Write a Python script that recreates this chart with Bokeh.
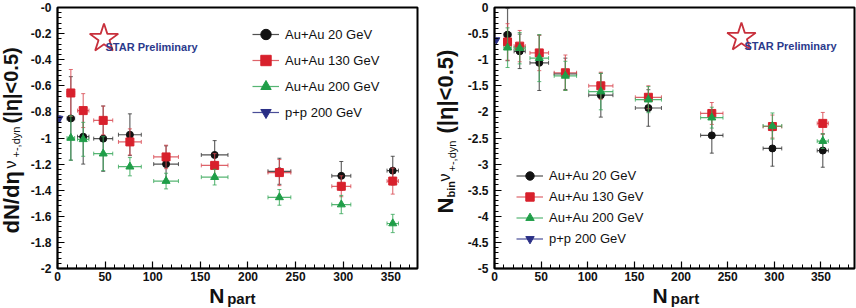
import math
from bokeh.plotting import figure
from bokeh.layouts import row, column
from bokeh.models import (ColumnDataSource, Legend, LegendItem, Label, FixedTicker,
                          Range1d, CustomJSTickFormatter)
from bokeh.embed import file_html
from bokeh.resources import INLINE

# ---------------- data ----------------
npart = [14, 27, 48, 76, 114, 165, 233, 298, 352]
npart_err = [4, 6, 10, 12, 13, 14, 12, 10, 6]
pp_npart = [2]
pp_npart_err = [0]

series_names = ["Au+Au 20 GeV", "Au+Au 130 GeV", "Au+Au 200 GeV", "p+p 200 GeV"]

# left panel: dN/deta * nu_dyn
left_au20 = [-0.85, -0.99, -1.005, -0.975, -1.20, -1.13, -1.255, -1.29, -1.25]
left_au20_err = [0.32, 0.21, 0.25, 0.16, 0.14, 0.11, 0.10, 0.11, 0.11]
left_au130 = [-0.655, -0.79, -0.865, -1.03, -1.145, -1.21, -1.265, -1.37, -1.33]
left_au130_err = [0.18, 0.13, 0.11, 0.10, 0.09, 0.09, 0.10, 0.08, 0.10]
left_au200 = [-1.00, -1.01, -1.12, -1.22, -1.33, -1.30, -1.455, -1.51, -1.655]
left_au200_err = [0.17, 0.13, 0.13, 0.07, 0.06, 0.06, 0.06, 0.07, 0.07]
left_pp = [-0.85]
left_pp_err = [0.02]

# right panel: N_bin * nu_dyn
right_au20 = [-0.52, -0.84, -1.06, -1.27, -1.68, -1.925, -2.45, -2.70, -2.74]
right_au20_err = [0.50, 0.33, 0.53, 0.30, 0.42, 0.35, 0.34, 0.34, 0.32]
right_au130 = [-0.66, -0.74, -0.87, -1.25, -1.50, -1.72, -2.03, -2.28, -2.22]
right_au130_err = [0.35, 0.30, 0.34, 0.34, 0.26, 0.22, 0.21, 0.22, 0.21]
right_au200 = [-0.77, -0.78, -0.97, -1.31, -1.61, -1.765, -2.11, -2.27, -2.56]
right_au200_err = [0.38, 0.30, 0.45, 0.28, 0.35, 0.25, 0.20, 0.25, 0.14]
right_pp = [-0.62]
right_pp_err = [0.02]

left_yticks = [round(-0.2 * i, 1) for i in range(11)]
right_yticks = [round(-0.5 * i, 1) for i in range(11)]
xticks = [0, 50, 100, 150, 200, 250, 300, 350]

COLORS = ["#111111", "#d8202c", "#1f9e48", "#2a2f86"]
BAR_COLORS = ["#333333", "#d84850", "#38a85a", "#2a2f86"]
MARKERS = ["circle", "square", "triangle", "inverted_triangle"]
SIZES = [7, 8, 8, 7]

FONT = "Liberation Sans"
MAIN_H = 285
XL_H = 308 - MAIN_H
TOP, BOTTOM = 7, 17


def text_fig(w, h, items):
    f = figure(width=w, height=h, x_range=Range1d(0, w), y_range=Range1d(0, h),
               output_backend="svg", toolbar_location=None, min_border=0,
               x_axis_location=None, y_axis_location=None)
    f.outline_line_color = None
    f.grid.visible = False
    f.background_fill_color = "white"
    f.border_fill_color = "white"
    for txt, x, y, size, style, angle in items:
        f.add_layout(Label(x=x, y=y, text=txt, angle=angle, text_font=FONT,
                           text_font_size=size, text_font_style=style,
                           text_color="#111111", text_baseline="alphabetic",
                           text_align="left"))
    return f


def make_panel(width, border_left, border_right, xmax, ymin, yticks, minor_step,
               series, legend_loc, legend_h, star_screen, fmt_zero):
    p = figure(width=width, height=MAIN_H, output_backend="svg", toolbar_location=None,
               x_range=Range1d(0, xmax), y_range=Range1d(ymin, 0),
               min_border_left=border_left, min_border_right=border_right,
               min_border_top=TOP, min_border_bottom=BOTTOM)
    p.background_fill_color = "white"
    p.border_fill_color = "white"
    p.outline_line_color = "black"
    p.outline_line_width = 2
    p.grid.visible = False

    p.xaxis.ticker = FixedTicker(ticks=xticks, minor_ticks=list(range(0, int(xmax) + 1, 10)))
    nminor = int(round(-ymin / minor_step))
    p.yaxis.ticker = FixedTicker(ticks=yticks,
                                 minor_ticks=[round(-minor_step * i, 3) for i in range(nminor + 1)])
    zero = "-0" if fmt_zero else "0"
    p.yaxis.formatter = CustomJSTickFormatter(
        code="if (Math.abs(tick) < 1e-9) {return '%s';} return (Math.round(tick*10)/10).toString();" % zero)
    for ax in (p.xaxis[0], p.yaxis[0]):
        ax.major_tick_in = 7
        ax.major_tick_out = 0
        ax.minor_tick_in = 4
        ax.minor_tick_out = 0
        ax.axis_line_width = 1.5
        ax.major_tick_line_width = 1.2
        ax.minor_tick_line_width = 1
        ax.major_label_text_font = FONT
        ax.major_label_text_font_style = "bold"
        ax.major_label_text_font_size = "12px"
        ax.major_label_text_color = "#111111"
    p.xaxis.major_label_standoff = 3
    p.yaxis.major_label_standoff = 6

    legend_items = []
    for k, (xs, xerr, ys, yerr) in enumerate(series):
        src = ColumnDataSource(dict(
            x=xs, y=ys,
            x0=[a - b for a, b in zip(xs, xerr)], x1=[a + b for a, b in zip(xs, xerr)],
            y0=[a - b for a, b in zip(ys, yerr)], y1=[a + b for a, b in zip(ys, yerr)]))
        hr = p.segment(x0="x0", y0="y", x1="x1", y1="y", source=src,
                       line_color=BAR_COLORS[k], line_width=1.2, line_alpha=0.85)
        p.segment(x0="x", y0="y0", x1="x", y1="y1", source=src,
                  line_color=BAR_COLORS[k], line_width=1.2, line_alpha=0.75)
        for cx, cy, ang in (("x", "y0", 0), ("x", "y1", 0),
                            ("x0", "y", math.pi / 2), ("x1", "y", math.pi / 2)):
            p.scatter(x=cx, y=cy, source=src, marker="dash", size=4, angle=ang,
                      line_color=BAR_COLORS[k], line_alpha=0.8)
        sr = p.scatter(x="x", y="y", source=src, marker=MARKERS[k], size=SIZES[k],
                       fill_color=COLORS[k], line_color=COLORS[k])
        legend_items.append(LegendItem(label=series_names[k], renderers=[hr, sr]))

    legend = Legend(items=legend_items, location=legend_loc,
                    glyph_width=27, glyph_height=legend_h, label_height=legend_h,
                    label_standoff=6, spacing=0, padding=0, margin=0,
                    label_text_font=FONT, label_text_font_size="13px",
                    label_text_color="#111111",
                    background_fill_alpha=0, border_line_alpha=0)
    p.add_layout(legend)

    # STAR Preliminary logo
    fw = width - border_left - border_right
    fh = MAIN_H - TOP - BOTTOM
    ssx, ssy = star_screen
    star_x = ssx / fw * xmax
    star_y = ymin + ssy / fh * (-ymin)
    p.scatter(x=[star_x], y=[star_y], marker="star", size=30, fill_color=None,
              line_color="#c8303c", line_width=1.8)
    p.add_layout(Label(x=ssx + 1, y=ssy - 8, x_units="screen", y_units="screen",
                       text="STAR Preliminary", text_font=FONT, text_font_size="11px",
                       text_font_style="bold", text_color="#2b3a8c",
                       text_baseline="alphabetic"))
    return p


left_series = [
    (npart, npart_err, left_au20, left_au20_err),
    (npart, npart_err, left_au130, left_au130_err),
    (npart, npart_err, left_au200, left_au200_err),
    (pp_npart, pp_npart_err, left_pp, left_pp_err),
]
right_series = [
    (npart, npart_err, right_au20, right_au20_err),
    (npart, npart_err, right_au130, right_au130_err),
    (npart, npart_err, right_au200, right_au200_err),
    (pp_npart, pp_npart_err, right_pp, right_pp_err),
]

R = math.pi / 2
# y titles (helper figures, pixel coordinates, y up from bottom)
left_ylabel = [
    ("dN/d\u03b7", 11, 75, "22px", "bold", R),
    ("\u03bd", 10, 140, "16px", "normal", R),
    ("+-,dyn", 15, 151, "11px", "normal", R),
    ("(|\u03b7|<0.5)", 10, 185, "20px", "bold", R),
]
right_ylabel = [
    ("N", 17, 95, "22px", "bold", R),
    ("bin", 22, 111, "11px", "bold", R),
    ("\u03bd", 16, 127, "16px", "normal", R),
    ("+-,dyn", 23, 137, "11px", "normal", R),
    ("(|\u03b7|<0.5)", 17, 175, "22px", "bold", R),
]

YL1_W, P1_W = 27, 401
YL2_W, P2_W = 36, 392

xl1 = text_fig(P1_W, XL_H, [("N", 169, 13, "21px", "bold", 0),
                            ("part", 189, 10, "15px", "bold", 0)])
xl2 = text_fig(P2_W, XL_H, [("N", 172, 13, "21px", "bold", 0),
                            ("part", 192, 10, "15px", "bold", 0)])
yl1 = text_fig(YL1_W, 308, left_ylabel)
yl2 = text_fig(YL2_W, 308, right_ylabel)

p1 = make_panel(P1_W, 26, 11, 378, -2.0, left_yticks, 0.04, left_series,
                (195, 143), 26, (47, 230), True)
p2 = make_panel(P2_W, 27, 2, 386, -5.0, right_yticks, 0.1, right_series,
                (22, 19.5), 21, (249, 231), False)

layout = row(yl1, column(p1, xl1), yl2, column(p2, xl2))
open("out.html", "w").write(file_html(layout, INLINE))
